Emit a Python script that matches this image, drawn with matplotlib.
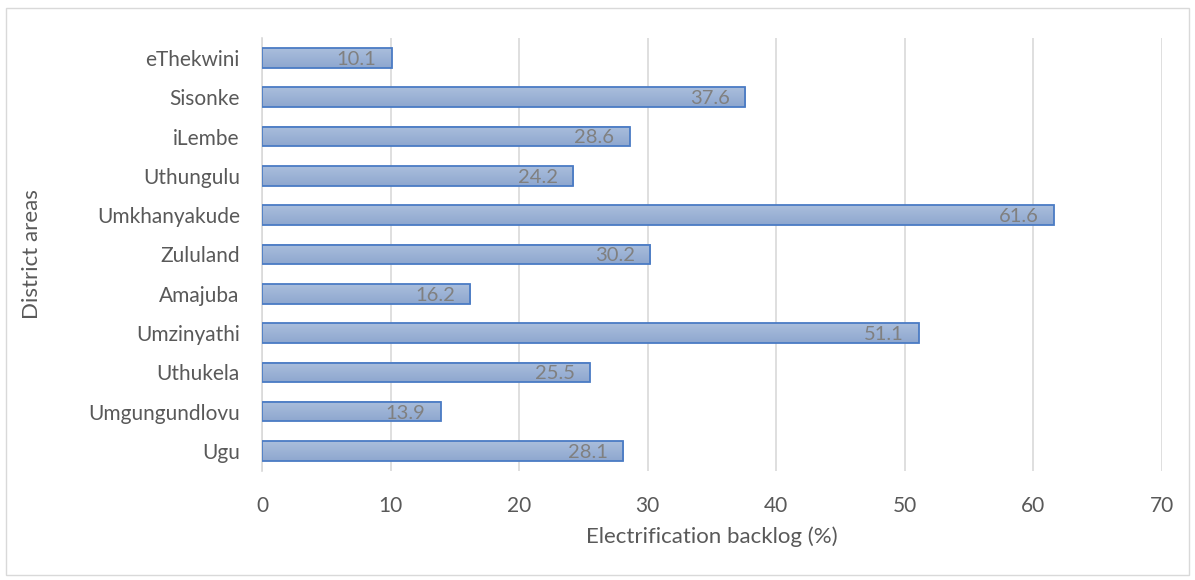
import numpy as np
import matplotlib.pyplot as plt
from matplotlib.colors import LinearSegmentedColormap
from matplotlib.patches import Rectangle

districts = ["Ugu", "Umgungundlovu", "Uthukela", "Umzinyathi", "Amajuba",
             "Zululand", "Umkhanyakude", "Uthungulu", "iLembe", "Sisonke",
             "eThekwini"]
backlog = [28.1, 13.9, 25.5, 51.1, 16.2, 30.2, 61.6, 24.2, 28.6, 37.6, 10.1]
x_ticks = [0, 10, 20, 30, 40, 50, 60, 70]

plt.rcParams['font.family'] = ['Lato', 'DejaVu Sans']

W, H = 1195, 580
fig = plt.figure(figsize=(W / 100, H / 100), dpi=100)
fig.patches.append(Rectangle((6 / W, 5 / H), (W - 12) / W, (H - 13) / H,
                             transform=fig.transFigure, fill=False,
                             edgecolor='#d9d9d9', linewidth=1.0))

ax = fig.add_axes([262 / W, 1 - 470.6 / H, 900 / W, (470.6 - 38.3) / H])
y = np.arange(len(districts))
bars = ax.barh(y, backlog, height=0.5, color='none', edgecolor='#4a7bc4',
               linewidth=1.3, zorder=3)

grad = LinearSegmentedColormap.from_list('g', ['#aabedc', '#8ea7cf'])
gvals = np.linspace(0, 1, 64).reshape(-1, 1)
for b in bars:
    x0, y0, w, h = b.get_x(), b.get_y(), b.get_width(), b.get_height()
    ax.imshow(gvals, cmap=grad, aspect='auto', origin='lower',
              extent=(x0, x0 + w, y0 + h, y0), zorder=2,
              interpolation='bilinear')

for yi, v in zip(y, backlog):
    ax.annotate(f"{v}", xy=(v, yi), xytext=(-11, -1), textcoords='offset points',
                ha='right', va='center', color='#808080', fontsize=14.5, zorder=4)

ax.set_xlim(0, 70)
ax.set_ylim(-0.5, len(districts) - 0.5)
ax.set_xticks(x_ticks)
ax.set_yticks(y)
ax.set_yticklabels(districts)
ax.grid(axis='x', color='#d9d9d9', linewidth=1.2, zorder=0)
ax.set_axisbelow(True)
for s in ['top', 'right', 'bottom']:
    ax.spines[s].set_visible(False)
ax.spines['left'].set_color('#d9d9d9')
ax.spines['left'].set_linewidth(1.2)
ax.tick_params(axis='both', length=0, colors='#595959', labelsize=15)
ax.tick_params(axis='x', pad=18)
ax.tick_params(axis='y', pad=16)
ax.set_xlabel("Electrification backlog (%)", fontsize=16, color='#595959')
ax.set_ylabel("District areas", fontsize=16, color='#595959')
ax.xaxis.set_label_coords(0.5, -0.13)
ax.yaxis.set_label_coords(-0.245, 0.5)

fig.savefig("out.png", dpi=100)
